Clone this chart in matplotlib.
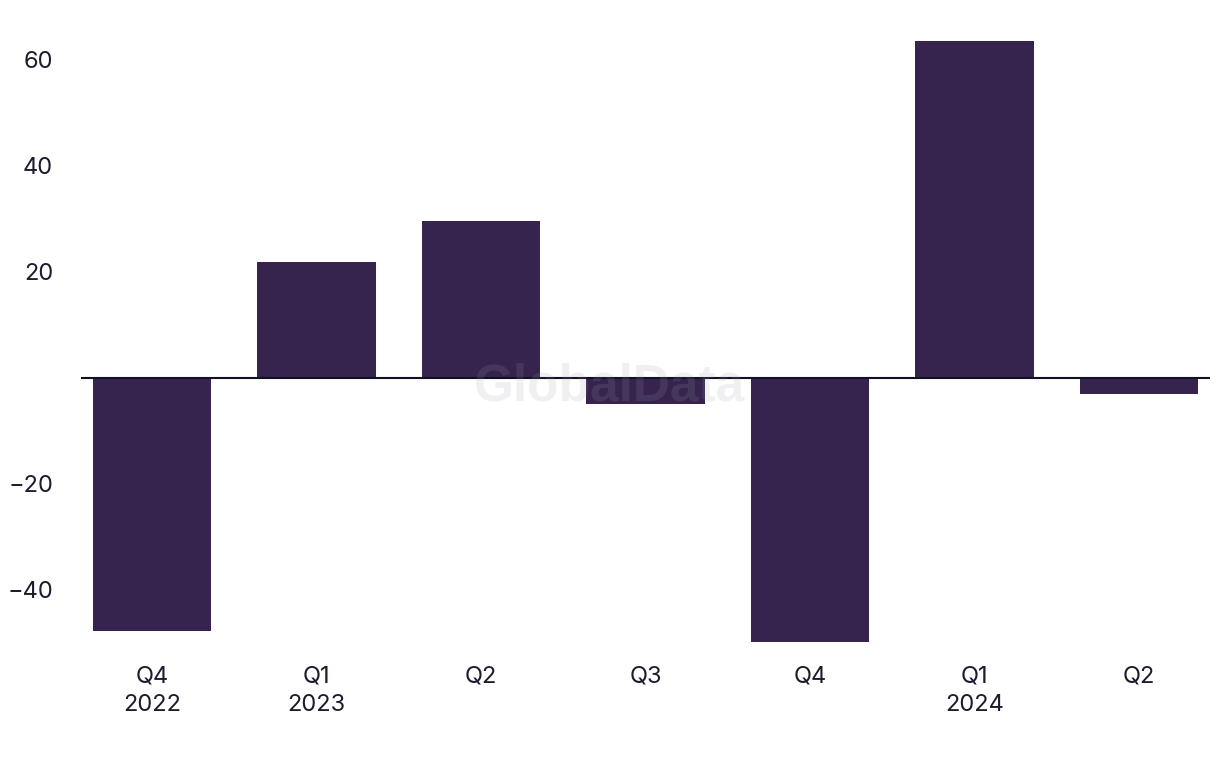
import matplotlib
matplotlib.use("Agg")
import matplotlib.pyplot as plt
import numpy as np

quarters = ["Q4\n2022", "Q1\n2023", "Q2", "Q3", "Q4", "Q1\n2024", "Q2"]
values = [-47.7, 21.8, 29.7, -5.0, -49.8, 63.5, -3.1]
yticks = [-40, -20, 20, 40, 60]

plt.rcParams['font.family'] = ['Inter', 'DejaVu Sans']

fig = plt.figure(figsize=(12.2, 7.68), dpi=100)
ax = fig.add_axes([0.0664, 0.1628, 0.9254, 0.8005])

x = np.arange(len(values))
ax.bar(x, values, width=0.72, color='#36244f', zorder=2)
ax.axhline(0, color='#111122', lw=1.5, zorder=3)

ax.set_xlim(-0.43, len(values) - 0.57)
ax.set_ylim(-50, 66)
ax.set_xticks(x)
ax.set_xticklabels(quarters, linespacing=1.4)
ax.set_yticks(yticks)
ax.set_yticklabels([str(v).replace('-', '\u2212') for v in yticks], va='center_baseline')
ax.tick_params(axis='both', length=0, labelsize=17, colors='#1c1c2e')
ax.tick_params(axis='y', pad=20)
ax.tick_params(axis='x', pad=16)
for s in ax.spines.values():
    s.set_visible(False)

ax.text(0.5, 0.496, "GlobalData", transform=fig.transFigure, ha='center', va='center',
        fontsize=37, fontweight='bold', color='#a0a0aa', alpha=0.15, zorder=5,
        family=['Liberation Sans', 'DejaVu Sans'])

fig.savefig("out.png", dpi=100)
